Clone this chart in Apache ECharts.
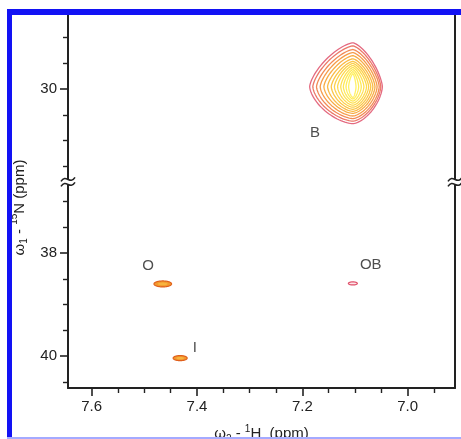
<!DOCTYPE html>
<html><head><meta charset="utf-8">
<script src="https://cdn.jsdelivr.net/npm/echarts@6/dist/echarts.min.js"></script>
<style>html,body{margin:0;padding:0;background:#fff}#c{width:461px;height:439px}</style>
</head><body><div id="c"></div>
<script>
// ---- data (ppm) ----
const xTickLabels = [7.6, 7.4, 7.2, 7.0];
const xMinorTicks = [7.55, 7.5, 7.45, 7.35, 7.3, 7.25, 7.15, 7.1, 7.05, 6.95];
const yTickLabels = [30, 38, 40];
const yMinorTicks = [29, 29.5, 30.5, 31, 31.5, 37, 37.5, 38.5, 39, 39.5, 40.5];
const xRange = [6.91, 7.645];
const yRange = [28.56, 40.62];
const yBreak = [31.8, 36.62];

// Peak B contour levels, outer -> inner
const bCenter = [7.104, 29.95];
const bLeft   = [7.186, 7.180, 7.173, 7.166, 7.159, 7.152, 7.145, 7.139, 7.133, 7.127, 7.122, 7.117, 7.112];
const bRight  = [7.048, 7.051, 7.054, 7.058, 7.062, 7.066, 7.070, 7.074, 7.078, 7.083, 7.088, 7.093, 7.098];
const bTop    = [29.10, 29.16, 29.23, 29.29, 29.35, 29.41, 29.46, 29.50, 29.54, 29.58, 29.62, 29.66, 29.70];
const bBottom = [30.67, 30.62, 30.57, 30.52, 30.47, 30.43, 30.39, 30.35, 30.31, 30.27, 30.23, 30.19, 30.16];

// small peaks
const smallNames = ['O', 'I', 'OB'];
const smallX = [7.465, 7.432, 7.104];
const smallY = [38.60, 40.04, 38.59];
const smallHalfW = [0.0167, 0.0133, 0.0085];
const smallHalfH = [0.058, 0.049, 0.030];

// peak labels
const peakLabels = ['B', 'O', 'I', 'OB'];
const peakLabelX = [7.176, 7.493, 7.404, 7.070];
const peakLabelY = [30.85, 38.25, 39.84, 38.23];

// ---- styles ----
const FONT = 'Liberation Sans, Arial, sans-serif';
const INK = '#222';
const bColors = ['#e46a80', '#ec7868', '#f28a56', '#f69c4a', '#f8ac46', '#fabb46', '#fbc648', '#fcd04b', '#fdd94e', '#fee152', '#fee856', '#ffed5c', '#fff166'];
const smallStyle = {
  O:  {fill: '#f29a2e', stroke: '#e0601c', inner: '#f8b440'},
  I:  {fill: '#f29a2e', stroke: '#e0601c', inner: '#f8b440'},
  OB: {fill: 'rgba(245,180,190,0.35)', stroke: '#e0506a', inner: null}
};

function shapePts(api, cx, cy, l, r, t, b, nT, nB) {
  const c = api.coord([cx, cy]);
  const pl = api.coord([l, cy]), pr = api.coord([r, cy]);
  const pt = api.coord([cx, t]), pb = api.coord([cx, b]);
  const aL = Math.abs(c[0] - pl[0]), aR = Math.abs(pr[0] - c[0]);
  const bT = Math.abs(c[1] - pt[1]), bB = Math.abs(pb[1] - c[1]);
  const pts = [];
  const N = 120;
  for (let k = 0; k < N; k++) {
    const th = k / N * 2 * Math.PI, co = Math.cos(th), si = Math.sin(th);
    const n = si < 0 ? nT : nB;
    pts.push([
      c[0] + Math.sign(co) * Math.pow(Math.abs(co), 2 / n) * (co >= 0 ? aR : aL),
      c[1] + Math.sign(si) * Math.pow(Math.abs(si), 2 / n) * (si >= 0 ? bB : bT)
    ]);
  }
  return pts;
}

const baseY = {
  type: 'value', inverse: true, min: yRange[0], max: yRange[1],
  breaks: [{start: yBreak[0], end: yBreak[1], gap: 0}],
  breakArea: {show: false},
  splitLine: {show: false}
};
const baseX = {
  type: 'value', inverse: true, min: xRange[0], max: xRange[1],
  position: 'bottom', splitLine: {show: false}
};
const richName = {
  t: {fontSize: 15, lineHeight: 20, fontFamily: FONT, color: INK},
  sub: {fontSize: 10, lineHeight: 10, verticalAlign: 'bottom', fontFamily: FONT, color: INK},
  sup: {fontSize: 10, lineHeight: 10, verticalAlign: 'top', fontFamily: FONT, color: INK}
};

const chart = echarts.init(document.getElementById('c'), null, {renderer: 'canvas'});
chart.setOption({
  animation: false,
  backgroundColor: '#fff',
  grid: {left: 68, right: 6, top: 15, bottom: 51, outerBoundsMode: 'none', containLabel: false},
  xAxis: [
    Object.assign({}, baseX, {
      axisLine: {lineStyle: {color: INK, width: 2}},
      axisTick: {customValues: xTickLabels, length: 8, lineStyle: {color: INK, width: 1.6}},
      axisLabel: {customValues: xTickLabels, formatter: v => v.toFixed(1), fontSize: 15, color: INK, fontFamily: FONT, margin: 11},
      name: '{t|ω}{sub|2}{t| - }{sup|1}{t|H  (ppm)}',
      nameLocation: 'middle', nameGap: 36,
      nameTextStyle: {fontFamily: FONT, color: INK, rich: richName}
    }),
    Object.assign({}, baseX, {
      axisLine: {show: false},
      axisTick: {customValues: xMinorTicks, length: 5, lineStyle: {color: INK, width: 1.4}},
      axisLabel: {show: false}
    })
  ],
  yAxis: [
    Object.assign({}, baseY, {
      position: 'left',
      axisLine: {show: true, lineStyle: {color: INK, width: 2}},
      axisTick: {show: true, customValues: yTickLabels, length: 8, lineStyle: {color: INK, width: 1.6}},
      axisLabel: {customValues: yTickLabels, fontSize: 15, color: INK, fontFamily: FONT, margin: 11},
      name: '{t|ω}{sub|1}{t| - }{sup|15}{t|N (ppm)}',
      nameLocation: 'middle', nameGap: 35, nameRotate: 90,
      nameTextStyle: {fontFamily: FONT, color: INK, rich: richName, padding: [0, 12, 0, 0]}
    }),
    Object.assign({}, baseY, {
      position: 'left',
      axisLine: {show: false},
      axisTick: {show: true, customValues: yMinorTicks, length: 5, lineStyle: {color: INK, width: 1.4}},
      axisLabel: {show: false}
    }),
    Object.assign({}, baseY, {
      position: 'right',
      axisLine: {show: true, lineStyle: {color: INK, width: 2}},
      axisTick: {show: false},
      axisLabel: {show: false}
    })
  ],
  graphic: [
    {type: 'rect', z: 100, shape: {x: 7, y: 9, width: 454, height: 6}, style: {fill: '#1212f4'}},
    {type: 'rect', z: 100, shape: {x: 7, y: 9, width: 5, height: 430}, style: {fill: '#1212f4'}},
    {type: 'rect', z: 100, shape: {x: 7, y: 437, width: 454, height: 2}, style: {fill: '#a4aaff'}}
  ],
  series: [
    {
      type: 'custom', silent: true, clip: true,
      data: bLeft.map((l, i) => [bCenter[0], bCenter[1]]),
      renderItem: (params, api) => {
        const i = params.dataIndex;
        return {
          type: 'polygon',
          shape: {points: shapePts(api, bCenter[0], bCenter[1], bLeft[i], bRight[i], bTop[i], bBottom[i], 1.45, 1.6)},
          style: {fill: 'none', stroke: bColors[i], lineWidth: 1.3}
        };
      }
    },
    {
      type: 'custom', silent: true, clip: true,
      data: smallNames.map((n, i) => [smallX[i], smallY[i]]),
      renderItem: (params, api) => {
        const i = params.dataIndex, st = smallStyle[smallNames[i]];
        const x = smallX[i], y = smallY[i], w = smallHalfW[i], h = smallHalfH[i];
        const children = [{
          type: 'polygon',
          shape: {points: shapePts(api, x, y, x + w, x - w, y - h, y + h, 2, 2)},
          style: {fill: st.fill, stroke: st.stroke, lineWidth: 1.2}
        }];
        if (st.inner) children.push({
          type: 'polygon',
          shape: {points: shapePts(api, x, y, x + w * 0.55, x - w * 0.55, y - h * 0.45, y + h * 0.45, 2, 2)},
          style: {fill: st.inner}
        });
        return {type: 'group', children};
      }
    },
    {
      type: 'scatter', silent: true, symbolSize: 0,
      data: peakLabels.map((n, i) => ({name: n, value: [peakLabelX[i], peakLabelY[i]]})),
      label: {show: true, position: 'inside', formatter: p => p.name, fontSize: 15, color: INK, fontFamily: FONT}
    },
    {
      type: 'custom', silent: true, clip: false, z: 10,
      data: [[xRange[0], yBreak[0]]],
      renderItem: (params, api) => {
        const y = api.coord([xRange[0], yBreak[0]])[1];
        const cs = params.coordSys;
        const children = [];
        [cs.x, cs.x + cs.width].forEach(x => {
          children.push({type: 'rect', shape: {x: x - 3, y: y - 2.5, width: 6, height: 5}, style: {fill: '#fff'}});
          [-2.5, 2.5].forEach(dy => {
            children.push({type: 'bezierCurve',
              shape: {x1: x - 7, y1: y + dy + 2, cpx1: x - 2, cpy1: y + dy - 6, cpx2: x + 2, cpy2: y + dy + 6, x2: x + 7, y2: y + dy - 2},
              style: {fill: 'none', stroke: INK, lineWidth: 1.6}});
          });
        });
        return {type: 'group', children};
      }
    }
  ]
});
</script>
</body></html>
